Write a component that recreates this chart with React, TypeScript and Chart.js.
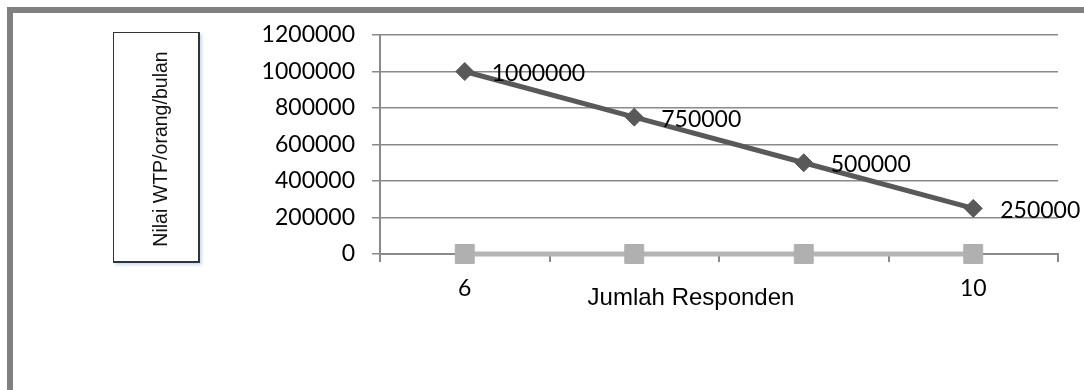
import React, { useEffect, useRef } from "react";
import { Chart, registerables } from "chart.js";

Chart.register(...registerables);

// ---- data ----
const categories = ["6", "", "", "10"];
const wtpValues = [1000000, 750000, 500000, 250000];
const baseValues = [0, 0, 0, 0];
const yMin = 0;
const yMax = 1200000;
const yStep = 200000;
const yAxisTitle = "Nilai WTP/orang/bulan";
const xAxisTitle = "Jumlah Responden";

const GRID = "#8a8a8a";

export default function App() {
  const canvasRef = useRef<HTMLCanvasElement | null>(null);

  useEffect(() => {
    const canvas = canvasRef.current;
    if (!canvas) return;

    const labelPlugin = {
      id: "pointValueLabels",
      afterDatasetsDraw(chart: any) {
        const meta = chart.getDatasetMeta(1);
        const ctx = chart.ctx;
        ctx.save();
        ctx.font = "23px Lato";
        ctx.fillStyle = "#000";
        ctx.textAlign = "left";
        ctx.textBaseline = "middle";
        meta.data.forEach((pt: any, i: number) => {
          ctx.fillText(String(wtpValues[i]), pt.x + 27, pt.y + 2);
        });
        ctx.restore();
      },
    };

    const xTitlePlugin = {
      id: "xTitle",
      afterDraw(chart: any) {
        const ctx = chart.ctx;
        const { left, right, bottom } = chart.chartArea;
        ctx.save();
        ctx.font = "24px 'Liberation Sans', Arial, sans-serif";
        ctx.fillStyle = "#000";
        ctx.textAlign = "center";
        ctx.textBaseline = "middle";
        ctx.fillText(xAxisTitle, (left + right) / 2 - 28, bottom + 44);
        ctx.restore();
      },
    };

    const chart = new Chart(canvas, {
      type: "line",
      data: {
        labels: categories,
        datasets: [
          {
            data: baseValues,
            borderColor: "#b4b4b4",
            backgroundColor: "#b0b0b0",
            borderWidth: 5,
            pointStyle: "rect",
            pointRadius: 13.4,
            pointBorderWidth: 1,
            pointBorderColor: "#b0b0b0",
            pointBackgroundColor: "#b0b0b0",
            tension: 0,
            clip: false,
          },
          {
            data: wtpValues,
            borderColor: "#595959",
            backgroundColor: "#595959",
            borderWidth: 5,
            pointStyle: "rectRot",
            pointRadius: 9,
            pointBorderWidth: 1,
            pointBorderColor: "#595959",
            pointBackgroundColor: "#595959",
            tension: 0,
            clip: false,
          },
        ],
      },
      options: {
        animation: false,
        responsive: false,
        devicePixelRatio: 1,
        layout: { padding: { left: 200, right: 26, top: 35, bottom: 0 } },
        plugins: {
          legend: { display: false },
          tooltip: { enabled: false },
        },
        scales: {
          x: {
            offset: true,
            afterFit(scale: any) {
              scale.height = 136;
            },
            grid: {
              offset: true,
              drawOnChartArea: false,
              drawTicks: true,
              tickLength: 8,
              color: GRID,
              lineWidth: 2,
            },
            border: { display: true, color: GRID, width: 2 },
            ticks: {
              autoSkip: false,
              maxRotation: 0,
              padding: 13,
              color: "#000",
              font: { family: "Lato", size: 23 },
            },
          },
          y: {
            min: yMin,
            max: yMax,
            afterFit(scale: any) {
              scale.width = 180;
            },
            grid: {
              color: GRID,
              lineWidth: 1.5,
              tickLength: 8,
              drawTicks: true,
            },
            border: { display: true, color: GRID, width: 2 },
            ticks: {
              stepSize: yStep,
              padding: 17,
              color: "#000",
              font: { family: "Lato", size: 23 },
              callback: (v: any) => String(v),
            },
          },
        },
      },
      plugins: [labelPlugin, xTitlePlugin],
    });

    let alive = true;
    if ((document as any).fonts && (document as any).fonts.load) {
      Promise.all([
        (document as any).fonts.load("23px Lato"),
        (document as any).fonts.load("22px 'Liberation Sans'"),
      ])
        .then(() => {
          if (alive) chart.update();
        })
        .catch(() => {});
    }

    return () => {
      alive = false;
      chart.destroy();
    };
  }, []);

  return (
    <div
      style={{
        position: "fixed",
        left: 0,
        top: 0,
        width: 1084,
        height: 390,
        overflow: "hidden",
        background: "#fff",
      }}
    >
      <canvas
        ref={canvasRef}
        width={1084}
        height={390}
        style={{ position: "absolute", left: 0, top: 0, width: 1084, height: 390 }}
      />
      {/* outer frame */}
      <div
        style={{
          position: "absolute",
          left: 7,
          top: 7,
          width: 1200,
          height: 500,
          borderLeft: "6px solid #808080",
          borderTop: "6px solid #808080",
          pointerEvents: "none",
        }}
      />
      {/* y axis title box */}
      <div
        style={{
          position: "absolute",
          left: 113,
          top: 32,
          width: 84,
          height: 228,
          border: "1px solid #333",
          borderRightWidth: 2,
          borderBottomWidth: 2,
          boxShadow: "2px 2px 3px #c9dcf2",
          background: "#fff",
        }}
      />
      <div
        style={{
          position: "absolute",
          left: 159,
          top: 149,
          transform: "translate(-50%, -50%) rotate(-90deg) scaleX(0.93)",
          whiteSpace: "nowrap",
          fontFamily: "'Liberation Sans', Arial, sans-serif",
          fontSize: 21,
          lineHeight: 1,
          color: "#111",
        }}
      >
        {yAxisTitle}
      </div>
    </div>
  );
}
